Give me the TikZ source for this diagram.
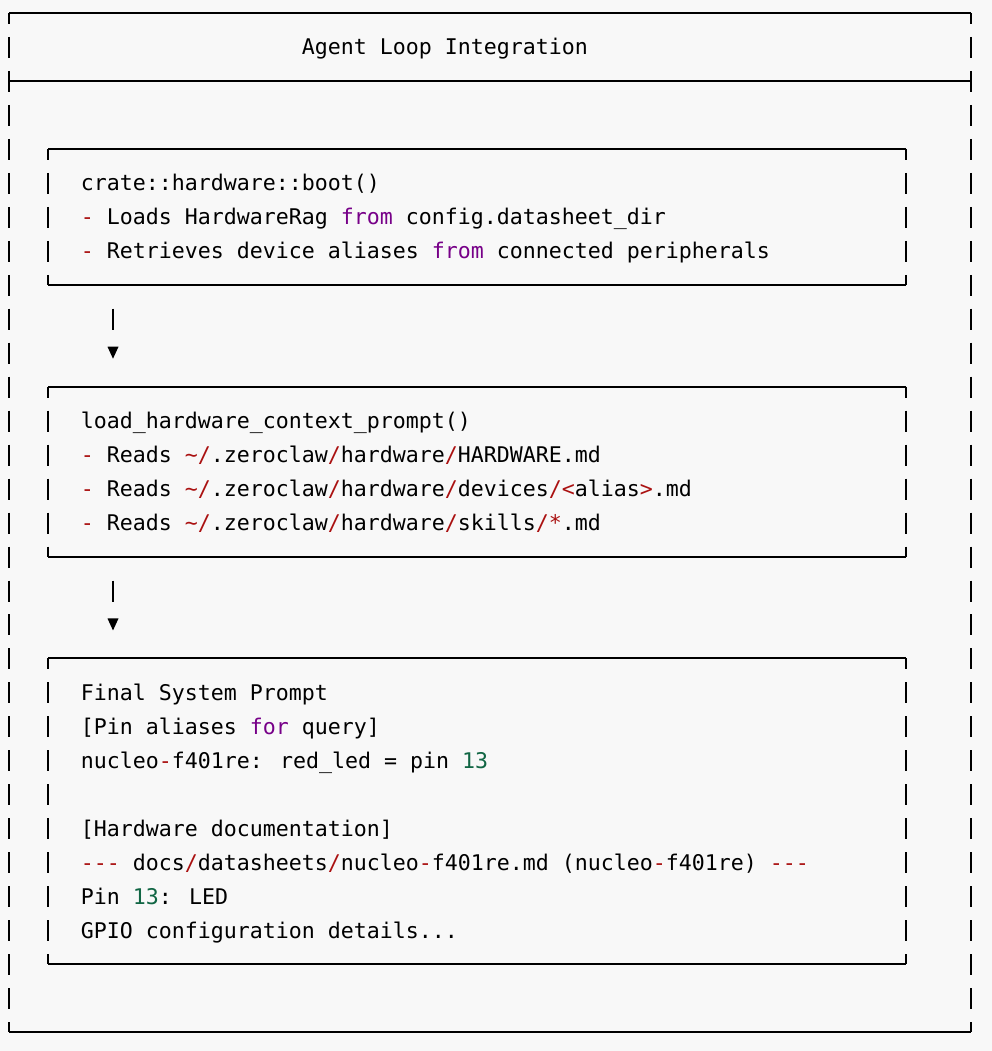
\documentclass[tikz,border=0pt]{standalone}
\usepackage{fontspec}
\newfontfamily\diagmono{DejaVu Sans Mono}
\definecolor{bgc}{HTML}{F8F8F8}
\definecolor{kwc}{HTML}{770088}
\definecolor{nmc}{HTML}{116644}
\definecolor{opc}{HTML}{AA1111}
\newcommand\kwx[1]{\textcolor{kwc}{#1}}
\newcommand\nmx[1]{\textcolor{nmc}{#1}}
\newcommand\opx[1]{\textcolor{opc}{#1}}
% vertical side of a box drawn as per-row glyph segments: col, top row, bottom row
\newcommand\vsidex[3]{%
  \pgfmathtruncatemacro\rowa{#2+1}\pgfmathtruncatemacro\rowb{#3-1}%
  \draw[vl] ({9+13*#1},{13+33.97*#2}) -- ({9+13*#1},{13+33.97*#2+11});
  \foreach \rr in {\rowa,...,\rowb}{\draw[vl] ({9+13*#1},{13+33.97*\rr-10}) -- ({9+13*#1},{13+33.97*\rr+11});}
  \draw[vl] ({9+13*#1},{13+33.97*#3-10}) -- ({9+13*#1},{13+33.97*#3});
}
% horizontal rule: col1, col2, row
\newcommand\hsidex[3]{%
  \draw[hl] ({9+13*#1},{13+33.97*#3}) -- ({9+13*#2},{13+33.97*#3});
}
\begin{document}
\begin{tikzpicture}[x=0.75pt,y=-0.75pt,
  txt/.style={anchor=base west,inner sep=0pt,font=\diagmono\fontsize{16.2pt}{20pt}\selectfont},
  hl/.style={line width=1.5pt,black},
  vl/.style={line width=1.05pt,black},
]
\fill[bgc] (0,0) rectangle (992,1051);
\useasboundingbox (0,0) rectangle (992,1051);

% outer frame
\hsidex{0}{74}{0}
\hsidex{0}{74}{2}
\hsidex{0}{74}{30}
\vsidex{0}{0}{30}
\vsidex{74}{0}{30}

% box 1
\hsidex{3}{69}{4}
\hsidex{3}{69}{8}
\vsidex{3}{4}{8}
\vsidex{69}{4}{8}
% box 2
\hsidex{3}{69}{11}
\hsidex{3}{69}{16}
\vsidex{3}{11}{16}
\vsidex{69}{11}{16}
% box 3
\hsidex{3}{69}{19}
\hsidex{3}{69}{28}
\vsidex{3}{19}{28}
\vsidex{69}{19}{28}

% title
\node[txt] (title) at (301.5,{21+33.97*1}) {Agent Loop Integration};

% box 1 text
\node[txt] (b1a) at (80.5,{21+33.97*5}) {crate::hardware::boot()};
\node[txt] (b1b) at (80.5,{21+33.97*6}) {\opx{-} Loads HardwareRag \kwx{from} config.datasheet\_dir};
\node[txt] (b1c) at (80.5,{21+33.97*7}) {\opx{-} Retrieves device aliases \kwx{from} connected peripherals};

% box 2 text
\node[txt] (b2a) at (80.5,{21+33.97*12}) {load\_hardware\_context\_prompt()};
\node[txt] (b2b) at (80.5,{21+33.97*13}) {\opx{-} Reads \opx{\textasciitilde/}.zeroclaw\opx{/}hardware\opx{/}HARDWARE.md};
\node[txt] (b2c) at (80.5,{21+33.97*14}) {\opx{-} Reads \opx{\textasciitilde/}.zeroclaw\opx{/}hardware\opx{/}devices\opx{/<}alias\opx{>}.md};
\node[txt] (b2d) at (80.5,{21+33.97*15}) {\opx{-} Reads \opx{\textasciitilde/}.zeroclaw\opx{/}hardware\opx{/}skills\opx{/*}.md};

% box 3 text
\node[txt] (b3a) at (80.5,{21+33.97*20}) {Final System Prompt};
\node[txt] (b3b) at (80.5,{21+33.97*21}) {[Pin aliases \kwx{for} query]};
\node[txt] (b3c) at (80.5,{21+33.97*22}) {nucleo\opx{-}f401re: red\_led = pin \nmx{13}};
\node[txt] (b3d) at (80.5,{21+33.97*24}) {[Hardware documentation]};
\node[txt] (b3e) at (80.5,{21+33.97*25}) {\opx{-{}-{}-} docs\opx{/}datasheets\opx{/}nucleo\opx{-}f401re.md (nucleo\opx{-}f401re) \opx{-{}-{}-}};
\node[txt] (b3f) at (80.5,{21+33.97*26}) {Pin \nmx{13}: LED};
\node[txt] (b3g) at (80.5,{21+33.97*27}) {GPIO configuration details...};

% arrows between boxes
\coordinate (a1s) at (113,{13+33.97*9-10});
\coordinate (a1e) at (113,{13+33.97*9+11});
\coordinate (a1t) at (113,{13+33.97*10});
\draw[vl] (a1s) -- (a1e);
\fill ([shift={(-5.5,-6)}]a1t) -- ([shift={(5.5,-6)}]a1t) -- ([shift={(0,6)}]a1t) -- cycle;

\coordinate (a2s) at (113,{13+33.97*17-10});
\coordinate (a2e) at (113,{13+33.97*17+11});
\coordinate (a2t) at (113,{13+33.97*18});
\draw[vl] (a2s) -- (a2e);
\fill ([shift={(-5.5,-6)}]a2t) -- ([shift={(5.5,-6)}]a2t) -- ([shift={(0,6)}]a2t) -- cycle;
\end{tikzpicture}
\end{document}
